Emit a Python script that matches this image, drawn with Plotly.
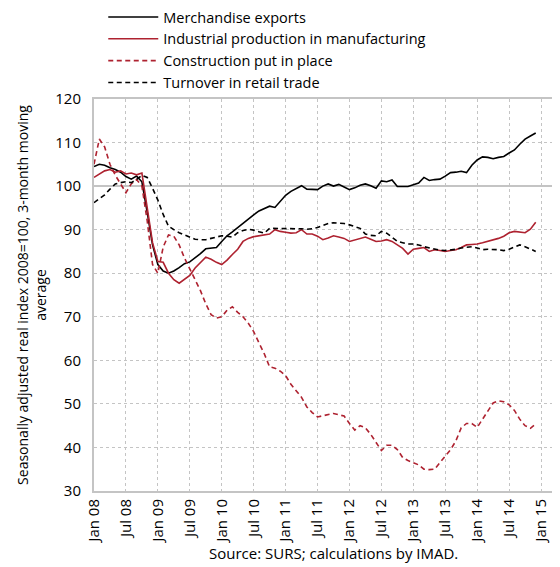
import plotly.graph_objects as go

# Monthly data, Jan 2008 - Dec 2014 (index 2008=100, 3-month moving average)
months = list(range(84))

exports = [
    104.5, 105.0, 104.8, 104.2, 103.8, 103.2, 102.2, 101.6, 102.3, 101.0, 94.0, 86.5,
    82.0, 80.5, 80.0, 80.5, 81.3, 82.2, 82.6, 83.5, 84.5, 85.6, 85.7, 85.9,
    87.3, 88.6, 89.5, 90.5, 91.6, 92.6, 93.4, 94.3, 94.8, 95.4, 95.1, 96.5,
    97.9, 98.8, 99.5, 100.1, 99.3, 99.3, 99.2, 100.0, 100.5, 100.0, 100.4, 99.8,
    99.2, 99.6, 100.2, 100.5, 100.1, 99.5, 101.2, 101.0, 101.4, 99.9, 99.9, 99.9,
    100.3, 100.7, 102.0, 101.3, 101.5, 101.6, 102.3, 103.1, 103.2, 103.4, 103.1, 104.8,
    106.0, 106.7, 106.6, 106.3, 106.6, 106.8, 107.6, 108.3, 109.6, 110.8, 111.5, 112.2,
]

industry = [
    102.0, 102.8, 103.5, 103.8, 103.2, 103.5, 102.8, 103.0, 102.6, 103.0, 95.0, 87.0,
    82.7, 82.5, 80.0, 78.5, 77.7, 78.5, 79.5, 81.2, 82.5, 83.7, 83.2, 82.5,
    82.0, 83.0, 84.3, 85.5, 87.3, 88.0, 88.4, 88.6, 88.8, 89.0, 90.0, 89.6,
    89.4, 89.2, 89.3, 90.0, 89.0, 89.0, 88.5, 87.7, 88.1, 88.6, 88.3, 88.0,
    87.3, 87.6, 88.0, 88.3, 87.8, 87.3, 87.4, 87.7, 87.3, 86.5, 85.7, 84.4,
    85.5, 85.7, 85.9, 85.0, 85.4, 85.2, 85.0, 85.2, 85.4, 85.9, 86.5, 86.6,
    86.7, 87.0, 87.3, 87.6, 88.0, 88.5, 89.3, 89.6, 89.5, 89.3, 90.1, 91.7,
]

construction = [
    105.0, 110.8, 109.0, 105.0, 102.5, 100.5, 98.5, 100.5, 101.5, 100.0, 92.0, 82.0,
    80.0, 86.0, 88.8, 88.5, 86.5, 83.5, 81.0, 78.5, 76.0, 73.0, 70.5, 69.7,
    70.0, 71.5, 72.3, 71.0, 70.0, 68.5, 66.6, 64.0, 61.5, 58.5, 58.2, 57.5,
    56.5, 54.5, 53.0, 51.5, 49.3, 48.0, 47.0, 47.3, 47.5, 47.8, 47.5, 47.2,
    45.5, 44.0, 45.0, 44.5, 43.0, 41.0, 39.3, 40.5, 40.5, 39.5, 37.7, 37.0,
    36.5, 36.0, 35.0, 34.9, 35.0, 36.5, 38.2, 39.5, 41.5, 44.5, 45.5, 45.5,
    44.6, 46.5, 48.5, 50.2, 50.7, 50.5, 49.8, 48.5, 46.5, 45.0, 44.4, 45.4,
]

retail = [
    96.2, 97.0, 98.0, 99.3, 100.5, 100.8, 101.0, 100.8, 101.5, 102.5, 102.0, 99.5,
    96.8, 93.5, 90.8, 90.0, 89.3, 88.8, 88.3, 87.8, 87.7, 87.7, 88.0, 88.3,
    88.6, 88.5, 88.3, 89.3, 89.8, 90.1, 89.9, 89.5, 89.2, 90.3, 90.3, 90.2,
    90.3, 90.3, 90.3, 90.2, 90.1, 90.2, 90.5, 90.9, 91.4, 91.6, 91.5, 91.4,
    91.1, 90.7, 90.3, 89.0, 88.7, 88.6, 89.6, 89.2, 88.2, 87.3, 87.0, 86.7,
    86.7, 86.5, 86.1, 85.8, 85.5, 85.3, 85.2, 85.3, 85.5, 85.8, 86.0, 86.1,
    85.8, 85.4, 85.5, 85.5, 85.4, 85.2, 85.5, 86.0, 86.5, 86.1, 85.5, 85.0,
]

tick_pos = list(range(0, 85, 6))
tick_labels = [f"{m} {y:02d}" for y in range(8, 15) for m in ("Jan", "Jul")] + ["Jan 15"]
base_level = 100

RED = "#AE2230"
GRID = "#C4C4C4"
FONT = "Open Sans"
DASH = "5px,3.5px"

fig = go.Figure()
series = [
    ("Merchandise exports", exports, "black", "solid"),
    ("Industrial production in manufacturing", industry, RED, "solid"),
    ("Construction put in place", construction, RED, DASH),
    ("Turnover in retail trade", retail, "black", DASH),
]
for name, vals, color, dash in series:
    fig.add_trace(
        go.Scatter(
            x=months,
            y=vals,
            name=name,
            mode="lines",
            line={"color": color, "width": 1.6, "dash": dash},
        )
    )

# solid reference line at the base year level
fig.add_hline(y=base_level, line={"color": GRID, "width": 2}, layer="below")

# page body has an 8px margin, so the figure is 8px smaller than the window
fig.update_layout(
    width=552,
    height=559,
    margin={"l": 85.5, "r": 2.5, "t": 91, "b": 76, "autoexpand": False},
    plot_bgcolor="white",
    paper_bgcolor="white",
    font={"family": FONT, "size": 15, "color": "black"},
    showlegend=True,
    legend={
        "x": 0.02,
        "y": 1.25,
        "xanchor": "left",
        "yanchor": "top",
        "bgcolor": "rgba(0,0,0,0)",
        "font": {"size": 14.5},
        "itemwidth": 50,
        "tracegroupgap": 0,
    },
    xaxis={
        "range": [0, 87],
        "tickmode": "array",
        "tickvals": tick_pos,
        "ticktext": tick_labels,
        "tickangle": -90,
        "showgrid": True,
        "gridcolor": GRID,
        "griddash": "dot",
        "gridwidth": 1,
        "showline": True,
        "mirror": True,
        "linecolor": GRID,
        "linewidth": 2,
        "ticks": "",
        "zeroline": False,
    },
    yaxis={
        "range": [30, 120],
        "dtick": 10,
        "showgrid": True,
        "gridcolor": GRID,
        "griddash": "dot",
        "gridwidth": 1,
        "showline": True,
        "mirror": True,
        "linecolor": GRID,
        "linewidth": 2,
        "ticks": "",
        "ticklabelstandoff": 8,
        "zeroline": False,
        "title": {
            "text": "Seasonally adjusted real index 2008=100, 3-month moving<br>average",
            "font": {"size": 14},
            "standoff": 5,
        },
    },
    annotations=[
        {
            "text": "Source: SURS; calculations by IMAD.",
            "xref": "paper",
            "yref": "paper",
            "x": 0.517,
            "y": -0.158,
            "xanchor": "center",
            "yanchor": "middle",
            "showarrow": False,
            "font": {"size": 15},
        }
    ],
)

fig.write_html("out.html")
